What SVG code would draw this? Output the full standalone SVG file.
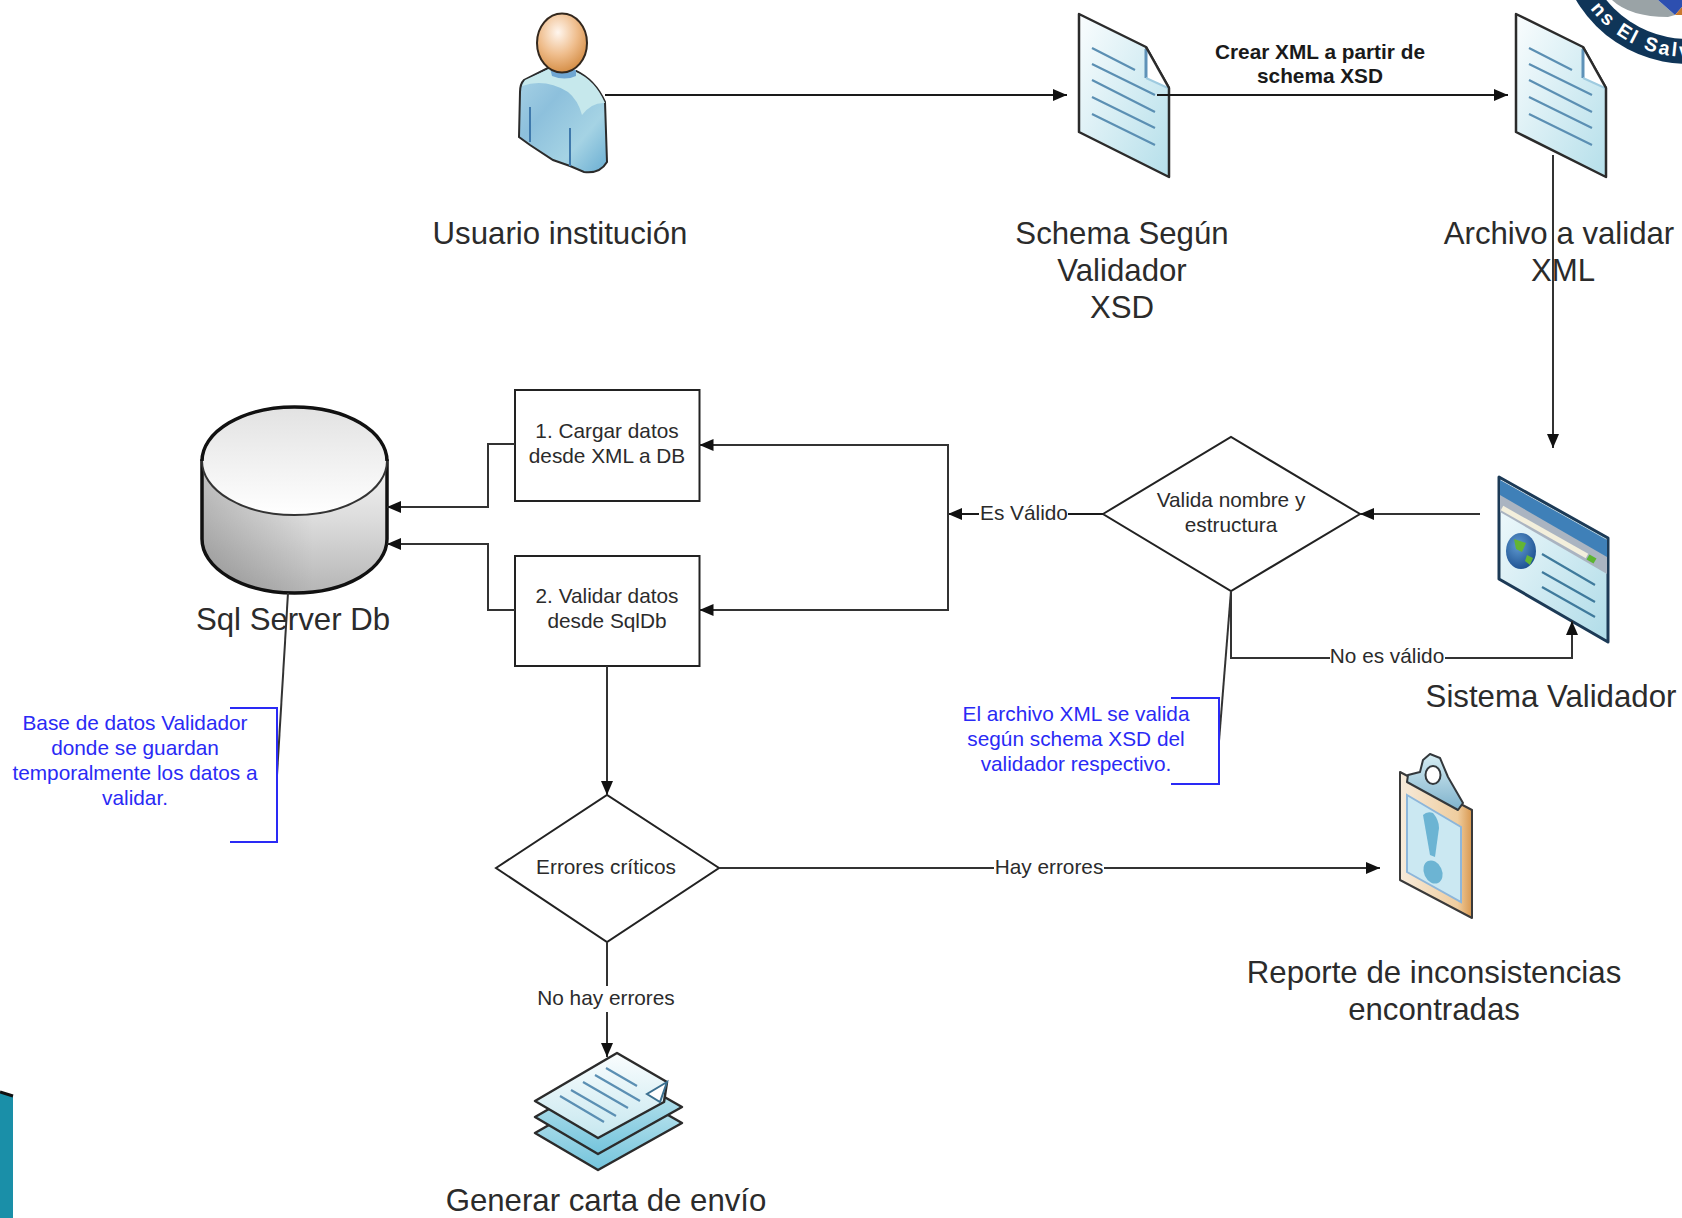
<svg xmlns="http://www.w3.org/2000/svg" width="1682" height="1218" viewBox="0 0 1682 1218">
<style>
text{font-family:"Liberation Sans",Arial,sans-serif;text-anchor:middle;fill:#2b2b2b}
.big{font-size:31.2px}
.sm{font-size:20.8px}
.bold{font-size:20.8px;font-weight:bold;fill:#1a1a1a}
.note{font-size:20.8px;fill:#2a2af5}
.c{fill:none;stroke:#1a1a1a;stroke-width:2}
.ln{fill:none;stroke:#333;stroke-width:2}
.bk{fill:none;stroke:#2a2af5;stroke-width:2}
.shape{fill:#fff;stroke:#222;stroke-width:2}
.doc{stroke:#2b2b2b;stroke-width:2.5;stroke-linejoin:round;fill:url(#docG)}
.rule{stroke:#5b8fb3;stroke-width:2.2;fill:none}
.foldL{stroke:#5f92b8;stroke-width:3;fill:none}
.foldB{stroke:#9fcbe0;stroke-width:2;fill:none}
.sheet{stroke:#2b2b2b;stroke-width:2.5;stroke-linejoin:round}
</style>
<defs>
<linearGradient id="docG" x1="0" y1="0" x2="1" y2="1"><stop offset="0" stop-color="#fafdfe"/><stop offset="1" stop-color="#b5dfea"/></linearGradient>
<radialGradient id="headG" cx=".42" cy=".32" r=".7"><stop offset="0" stop-color="#fff6ee"/><stop offset=".55" stop-color="#efbd8c"/><stop offset="1" stop-color="#d48d45"/></radialGradient>
<linearGradient id="bodyG" x1="0" y1="0" x2="1" y2="1"><stop offset="0" stop-color="#a9d3e6"/><stop offset=".35" stop-color="#8dc0dc"/><stop offset=".7" stop-color="#a5d3e4"/><stop offset="1" stop-color="#6aaed2"/></linearGradient>
<linearGradient id="cylTop" x1="0" y1="0" x2="0" y2="1"><stop offset="0" stop-color="#e2e2e2"/><stop offset="1" stop-color="#fff"/></linearGradient>
<linearGradient id="cylBody" x1="0" y1="0" x2="0" y2="1"><stop offset="0" stop-color="#f4f4f4"/><stop offset=".45" stop-color="#dcdcdc"/><stop offset="1" stop-color="#b5b5b5"/></linearGradient>
<linearGradient id="cylSide" x1="0" y1="0" x2="1" y2="0"><stop offset="0" stop-color="#000" stop-opacity=".2"/><stop offset=".6" stop-color="#000" stop-opacity="0"/></linearGradient>
<linearGradient id="screenG" x1="0" y1="0" x2="1" y2="1"><stop offset="0" stop-color="#f4fbfd"/><stop offset="1" stop-color="#b0dce8"/></linearGradient>
<linearGradient id="sheetG" x1="0" y1="0" x2="0" y2="1"><stop offset="0" stop-color="#fafdfe"/><stop offset="1" stop-color="#c6e7ef"/></linearGradient>
<linearGradient id="sheet2G" x1="0" y1="0" x2="0" y2="1"><stop offset="0" stop-color="#cdebf2"/><stop offset="1" stop-color="#74c4dc"/></linearGradient>
<linearGradient id="clipG" x1="0" y1="0" x2="1" y2="0"><stop offset="0" stop-color="#f7ebdb"/><stop offset=".8" stop-color="#efcd9f"/><stop offset="1" stop-color="#d9984f"/></linearGradient>
<linearGradient id="clampG" x1="0" y1="0" x2="0" y2="1"><stop offset="0" stop-color="#d6edf3"/><stop offset="1" stop-color="#7fb2cc"/></linearGradient>
<radialGradient id="globeG" cx=".4" cy=".35" r=".7"><stop offset="0" stop-color="#5f9ad0"/><stop offset="1" stop-color="#1c4f90"/></radialGradient>
<path id="logoArc" d="M1565 -66 A123 123 0 0 0 1811 -66"/>
<marker id="arr" viewBox="0 0 14 12" refX="14" refY="6" markerWidth="14" markerHeight="12" markerUnits="userSpaceOnUse" orient="auto"><path d="M0 0L14 6L0 12Z" fill="#111"/></marker>
</defs>

<g id="logo">
<circle cx="1688" cy="-66" r="130" fill="#0f3558"/>
<circle cx="1688" cy="-66" r="105" fill="#fff"/>
<path d="M1612 0Q1630 17 1668 17L1675 15L1658 0Z" fill="#9aa3a6"/>
<path d="M1658 0L1675 15L1682 7V0Z" fill="#2d4fb0"/>
<path d="M1675 15H1682V7Z" fill="#c9772c"/>
<text font-size="19.500" font-weight="bold" style="fill:#fff;text-anchor:start;letter-spacing:2.500px"><textPath href="#logoArc" startOffset="80">ns El Salv</textPath></text>
</g>

<g id="usuario">
<path d="M548 68L524 80Q520 84 520 92L519 137L530 145L553 160L570 166L584 172Q600 174 607 162L605 102Q595 80 576 71Z" fill="url(#bodyG)" stroke="#2b2b2b" stroke-width="2"/>
<path d="M549 69L525 80L522 86Q545 78 568 92Q578 100 582 115Q592 102 605 103Q595 80 576 72Z" fill="#c6e8ec"/>
<path d="M550 68L552 76Q565 81 576 76L576 70Z" fill="#6fa6d2"/>
<path d="M530 107V142M570 128V166" stroke="#3f79ac" stroke-width="2" fill="none"/>
<ellipse cx="562" cy="43" rx="25" ry="29.500" fill="url(#headG)" stroke="#33281e" stroke-width="2"/>
<text class="big" x="560" y="244">Usuario institución</text>
</g>

<g id="schema">
<path class="doc" d="M1079 14L1146 47L1169 88V177L1079 132Z"/>
<path d="M1146 47V78L1169 88Z" fill="#fff"/>
<path class="foldL" d="M1146 49V78"/>
<path class="foldB" d="M1146 78L1168 88"/>
<path d="M1146 47L1169 88" stroke="#2b2b2b" stroke-width="2.500" fill="none"/>
<path class="rule" d="M1092 48L1135 70M1092 64L1155 95M1092 80L1155 112M1092 97L1155 128M1092 114L1155 145"/>
<text class="big" x="1122" y="244">Schema Según</text>
<text class="big" x="1122" y="281">Validador</text>
<text class="big" x="1122" y="318">XSD</text>
</g>

<g id="archivo">
<path class="doc" d="M1516 14L1583 47L1606 88V177L1516 132Z"/>
<path d="M1583 47V78L1606 88Z" fill="#fff"/>
<path class="foldL" d="M1583 49V78"/>
<path class="foldB" d="M1583 78L1605 88"/>
<path d="M1583 47L1606 88" stroke="#2b2b2b" stroke-width="2.500" fill="none"/>
<path class="rule" d="M1529 48L1572 70M1529 64L1592 95M1529 80L1592 112M1529 97L1592 128M1529 114L1592 145"/>
<text class="big" x="1559" y="244">Archivo a validar</text>
<text class="big" x="1563" y="281">XML</text>
</g>

<g id="sistema">
<path d="M1499 477L1608 538V642L1499 579Z" fill="url(#screenG)" stroke="#1c3a56" stroke-width="3" stroke-linejoin="round"/>
<path d="M1500 480L1607 540V574L1500 512Z" fill="#aab4c1"/>
<path d="M1500 480L1607 540V557L1500 495Z" fill="#3f80b8"/>
<path d="M1502 508L1587 556" stroke="#f3efdc" stroke-width="5"/>
<path d="M1588 557L1595 561" stroke="#5cb531" stroke-width="6"/>
<ellipse cx="1521" cy="551" rx="15" ry="18" fill="url(#globeG)"/>
<path d="M1514 539L1526 543L1522 552L1516 549ZM1527 555L1533 558L1530 565L1525 561Z" fill="#63b534"/>
<path d="M1542 554L1595 585M1542 572L1595 602M1542 587L1595 617" stroke="#3f7a9c" stroke-width="2.200" fill="none"/>
<text class="big" x="1551" y="707">Sistema Validador</text>
</g>

<g id="valida">
<path class="shape" d="M1103 514L1231 437L1360 514L1231 591Z"/>
<text class="sm" x="1231" y="507">Valida nombre y</text>
<text class="sm" x="1231" y="532">estructura</text>
</g>

<g id="cargar">
<rect class="shape" x="515" y="390" width="184.500" height="111"/>
<text class="sm" x="607" y="438">1. Cargar datos</text>
<text class="sm" x="607" y="463">desde XML a DB</text>
</g>

<g id="validar">
<rect class="shape" x="515" y="556" width="184.500" height="110"/>
<text class="sm" x="607" y="603">2. Validar datos</text>
<text class="sm" x="607" y="628">desde SqlDb</text>
</g>

<g id="sqlserver">
<path d="M202 461V539A92.500 54 0 0 0 387 539V461Z" fill="url(#cylBody)"/>
<path d="M202 461V539A92.500 54 0 0 0 387 539V461Z" fill="url(#cylSide)" stroke="#111" stroke-width="3.500"/>
<ellipse cx="294.500" cy="461" rx="92.500" ry="54" fill="url(#cylTop)" stroke="#333" stroke-width="2"/>
<path d="M202 461A92.500 54 0 0 1 387 461" fill="none" stroke="#111" stroke-width="3.500"/>
<text class="big" x="293" y="630">Sql Server Db</text>
</g>

<g id="nota-db">
<text class="note" x="135" y="730">Base de datos Validador</text>
<text class="note" x="135" y="755">donde se guardan</text>
<text class="note" x="135" y="780">temporalmente los datos a</text>
<text class="note" x="135" y="805">validar.</text>
</g>

<g id="nota-xml">
<text class="note" x="1076" y="721">El archivo XML se valida</text>
<text class="note" x="1076" y="746">según schema XSD del</text>
<text class="note" x="1076" y="771">validador respectivo.</text>
</g>

<g id="errores">
<path class="shape" d="M496 868L607 795L719 868L607 942Z"/>
<text class="sm" x="606" y="874">Errores críticos</text>
</g>

<g id="reporte">
<path d="M1400 772L1472 810V918L1400 880Z" fill="url(#clipG)" stroke="#3a3a3a" stroke-width="2" stroke-linejoin="round"/>
<path d="M1407 795L1461 827V902L1407 872Z" fill="#cbe8f2" stroke="#8db6da" stroke-width="2"/>
<path d="M1408 775L1420 772L1423 760L1430 754L1440 758L1448 777L1463 803L1458 810L1407 782Z" fill="url(#clampG)" stroke="#33383c" stroke-width="2" stroke-linejoin="round"/>
<ellipse cx="1433" cy="775" rx="7.500" ry="9" fill="#fff" stroke="#33383c" stroke-width="2"/>
<path d="M1423 815Q1427 811 1433 813Q1439 820 1439 828L1435 857L1430 855Z" fill="#6cb4d3"/>
<ellipse cx="1433" cy="872" rx="9" ry="12" transform="rotate(-25 1433 872)" fill="#6cb4d3"/>
<text class="big" x="1434" y="983">Reporte de inconsistencias</text>
<text class="big" x="1434" y="1020">encontradas</text>
</g>

<g id="carta">
<path class="sheet" d="M535 1133L617 1086L682 1123L598 1170Z" fill="url(#sheet2G)"/>
<path class="sheet" d="M535 1117L617 1070L682 1107L598 1154Z" fill="url(#sheet2G)"/>
<path class="sheet" d="M535 1101L617 1053L667 1082L664 1102L598 1138Z" fill="url(#sheetG)"/>
<path d="M667 1082L647 1094L660 1102Z" fill="#fff" stroke="#3b6f8f" stroke-width="2"/>
<path class="rule" d="M606 1068L637 1086M595 1075L640 1101M583 1082L628 1108M571 1090L616 1116M560 1096L604 1122"/>
<text class="big" x="606" y="1211">Generar carta de envío</text>
</g>

<g id="esquina">
<path d="M0 1092L13 1096V1218H0Z" fill="#1a8fa8"/>
<path d="M0 1092L13 1096" stroke="#111" stroke-width="3" fill="none"/>
</g>

<g id="connectors">
<path class="c" d="M605 95H1067" marker-end="url(#arr)"/>
<path class="c" d="M1157 95H1508" marker-end="url(#arr)"/>
<path class="ln" d="M1553 155V448" marker-end="url(#arr)"/>
<path class="ln" d="M1480 514H1360" marker-end="url(#arr)"/>
<path class="c" d="M1103 514H948" marker-end="url(#arr)"/>
<path class="ln" d="M948 514V445H699.500" marker-end="url(#arr)"/>
<path class="ln" d="M948 514V610H699.500" marker-end="url(#arr)"/>
<path class="ln" d="M515 444H488V507H387" marker-end="url(#arr)"/>
<path class="ln" d="M515 610H488V544H387" marker-end="url(#arr)"/>
<path class="ln" d="M1231 591V658H1572V621" marker-end="url(#arr)"/>
<path class="ln" d="M607 666V795" marker-end="url(#arr)"/>
<path class="ln" d="M719 868H1380" marker-end="url(#arr)"/>
<path class="ln" d="M607 942V1057" marker-end="url(#arr)"/>
<path class="ln" d="M288 593L277 775"/>
<path class="bk" d="M230 708H277V842H230"/>
<path class="ln" d="M1231 591L1219 741"/>
<path class="bk" d="M1171 698H1219V784H1171"/>
<rect x="979" y="500" width="89" height="26" fill="#fff"/>
<text class="sm" x="1024" y="520">Es Válido</text>
<rect x="1330" y="645" width="115" height="26" fill="#fff"/>
<text class="sm" x="1387" y="663">No es válido</text>
<rect x="994" y="855" width="110" height="26" fill="#fff"/>
<text class="sm" x="1049" y="874">Hay errores</text>
<rect x="536" y="986" width="140" height="26" fill="#fff"/>
<text class="sm" x="606" y="1005">No hay errores</text>
<text class="bold" x="1320" y="59">Crear XML a partir de</text>
<text class="bold" x="1320" y="83">schema XSD</text>
</g>
</svg>
